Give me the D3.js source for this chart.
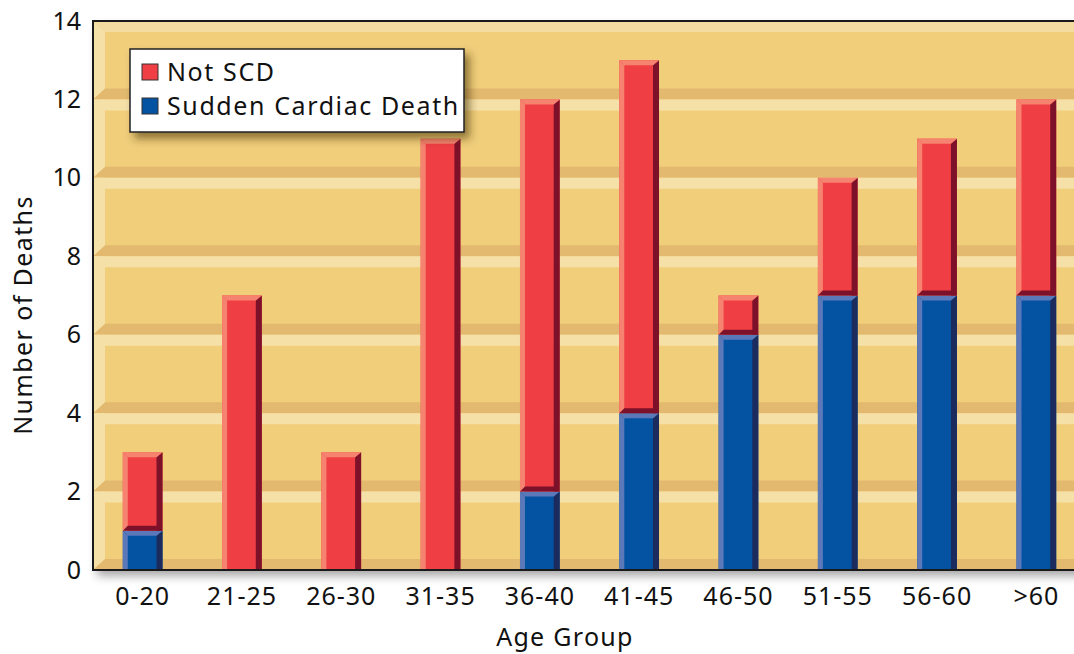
<!DOCTYPE html>
<html>
<head>
<meta charset="utf-8">
<script src="https://cdn.jsdelivr.net/npm/d3@7"></script>
<style>
  html, body { margin: 0; padding: 0; background: #fff; }
  svg text { font-family: "Noto Sans", "Open Sans", sans-serif; fill: #111; }
</style>
</head>
<body>
<svg id="chart" width="1074" height="654"></svg>
<script>
// data
const ageGroups = ['0-20', '21-25', '26-30', '31-35', '36-40', '41-45', '46-50', '51-55', '56-60', '>60'];
const suddenCardiac = [1, 0, 0, 0, 2, 4, 6, 7, 7, 7];
const notSCD = [2, 7, 3, 11, 10, 9, 1, 3, 4, 5];
const yTicks = [0, 2, 4, 6, 8, 10, 12, 14];
const seriesNames = ['Not SCD', 'Sudden Cardiac Death'];

const colors = {
  red: { main: '#ef3f44', light: '#f6836f', dark: '#7c1129' },
  blue: { main: '#0453a3', light: '#5b79b9', dark: '#1b2b5e' }
};
const wall = { base: '#f0ce7a', dark: '#e2b96e', light: '#f5e1a8' };

const frame = { left: 93, top: 21, right: 1086, bottom: 570 };
const bevel = 12;

const svg = d3.select('#chart');
const defs = svg.append('defs');

const frameShadow = defs.append('filter').attr('id', 'frameShadow')
  .attr('x', '-5%').attr('y', '-5%').attr('width', '115%').attr('height', '115%');
frameShadow.append('feDropShadow').attr('dx', 4).attr('dy', 6).attr('stdDeviation', 5)
  .attr('flood-color', '#000').attr('flood-opacity', 0.35);

const legendShadow = defs.append('filter').attr('id', 'legendShadow')
  .attr('x', '-10%').attr('y', '-20%').attr('width', '130%').attr('height', '160%');
legendShadow.append('feDropShadow').attr('dx', 5).attr('dy', 6).attr('stdDeviation', 4)
  .attr('flood-color', '#3a2a00').attr('flood-opacity', 0.55);

const x = d3.scaleBand().domain(ageGroups).range([frame.left, frame.right]).paddingInner(0.6).paddingOuter(0.3);
const y = d3.scaleLinear().domain([0, 14]).range([frame.bottom, frame.top]);

// backdrop
svg.append('rect')
  .attr('x', frame.left).attr('y', frame.top)
  .attr('width', frame.right - frame.left).attr('height', frame.bottom - frame.top)
  .attr('fill', wall.base).attr('filter', 'url(#frameShadow)');

const back = svg.append('g');
// left wall and top band
back.append('polygon')
  .attr('points', [[frame.left, frame.top], [frame.left + bevel, frame.top + 11], [frame.left + bevel, frame.bottom - 11], [frame.left, frame.bottom]].join(' '))
  .attr('fill', wall.light);
back.append('polygon')
  .attr('points', [[frame.left, frame.top], [frame.right, frame.top], [frame.right, frame.top + 11], [frame.left + bevel, frame.top + 11]].join(' '))
  .attr('fill', '#f4dca0');
// floor
back.append('polygon')
  .attr('points', [[frame.left, frame.bottom], [frame.left + bevel, frame.bottom - 11], [frame.right, frame.bottom - 11], [frame.right, frame.bottom]].join(' '))
  .attr('fill', wall.dark);

// grid ridges
const ridges = back.selectAll('g.ridge').data(yTicks.filter(d => d > 0 && d < 14)).enter().append('g');
ridges.append('polygon')
  .attr('points', d => [[frame.left, y(d)], [frame.left + bevel, y(d) - 11], [frame.right, y(d) - 11], [frame.right, y(d)]].join(' '))
  .attr('fill', wall.dark);
ridges.append('polygon')
  .attr('points', d => [[frame.left, y(d)], [frame.left + bevel, y(d) + 11], [frame.right, y(d) + 11], [frame.right, y(d)]].join(' '))
  .attr('fill', wall.light);

// bars
const segs = [];
ageGroups.forEach((g, i) => {
  segs.push({ group: g, y0: 0, y1: suddenCardiac[i], c: colors.blue, stacked: false });
  segs.push({ group: g, y0: suddenCardiac[i], y1: suddenCardiac[i] + notSCD[i], c: colors.red, stacked: suddenCardiac[i] > 0 });
});

const bw = x.bandwidth();
const bars = svg.append('g').selectAll('g').data(segs.filter(d => d.y1 > d.y0)).enter().append('g');
bars.each(function (d) {
  const g = d3.select(this);
  const x0 = x(d.group), x1 = x0 + bw;
  const top = y(d.y1), bot = y(d.y0);
  const l = 5, r = 6, cap = 5;
  g.append('rect').attr('x', x0).attr('y', top).attr('width', bw).attr('height', bot - top).attr('fill', d.c.main);
  g.append('polygon').attr('points', [[x0, top], [x0 + l, top + cap], [x0 + l, bot], [x0, bot]].join(' ')).attr('fill', d.c.light);
  g.append('polygon').attr('points', [[x1, top], [x1, bot], [x1 - r, bot], [x1 - r, top + cap]].join(' ')).attr('fill', d.c.dark);
  g.append('polygon').attr('points', [[x0, top], [x1, top], [x1 - r, top + cap], [x0 + l, top + cap]].join(' ')).attr('fill', d.c.light);
  if (d.stacked) {
    g.append('polygon').attr('points', [[x0, bot], [x1, bot], [x1 - r, bot - cap], [x0 + l, bot - cap]].join(' ')).attr('fill', d.c.dark);
  }
});

// frame border
svg.append('path')
  .attr('d', `M${frame.right},${frame.top}H${frame.left}V${frame.bottom}H${frame.right}`)
  .attr('fill', 'none').attr('stroke', '#1a1a1a').attr('stroke-width', 2);

// axes
const yAxis = svg.append('g').attr('transform', `translate(${frame.left},0)`)
  .call(d3.axisLeft(y).tickValues(yTicks).tickSize(0).tickPadding(12));
yAxis.select('.domain').remove();
yAxis.selectAll('text').attr('font-size', 25).style('font-family', '"Noto Sans", sans-serif').attr('fill', '#111');

const xAxis = svg.append('g').attr('transform', `translate(0,${frame.bottom})`)
  .call(d3.axisBottom(x).tickSize(0).tickPadding(17));
xAxis.select('.domain').remove();
xAxis.selectAll('text').attr('font-size', 25).style('letter-spacing', '1px')
  .style('font-family', '"Noto Sans", sans-serif').attr('fill', '#111');

svg.append('text')
  .attr('x', 565).attr('y', 646)
  .attr('text-anchor', 'middle').attr('font-size', 25).style('letter-spacing', '1.3px')
  .text('Age Group');

svg.append('text')
  .attr('transform', 'translate(32,315) rotate(-90)')
  .attr('text-anchor', 'middle').attr('font-size', 25).style('letter-spacing', '1.4px')
  .text('Number of Deaths');

// legend
const legend = svg.append('g').attr('transform', 'translate(130,49)');
legend.append('rect').attr('width', 334).attr('height', 83)
  .attr('fill', '#fff').attr('stroke', '#222').attr('stroke-width', 1.5)
  .attr('filter', 'url(#legendShadow)');
const items = legend.selectAll('g.item').data(seriesNames).enter().append('g')
  .attr('transform', (d, i) => `translate(12,${15 + i * 34})`);
items.append('rect').attr('width', 16).attr('height', 16)
  .attr('fill', (d, i) => i === 0 ? colors.red.main : colors.blue.main)
  .attr('stroke', '#333').attr('stroke-width', 1);
items.append('text').attr('x', 25).attr('y', 17)
  .attr('font-size', 25).style('letter-spacing', '1.6px')
  .text(d => d);
</script>
</body>
</html>
